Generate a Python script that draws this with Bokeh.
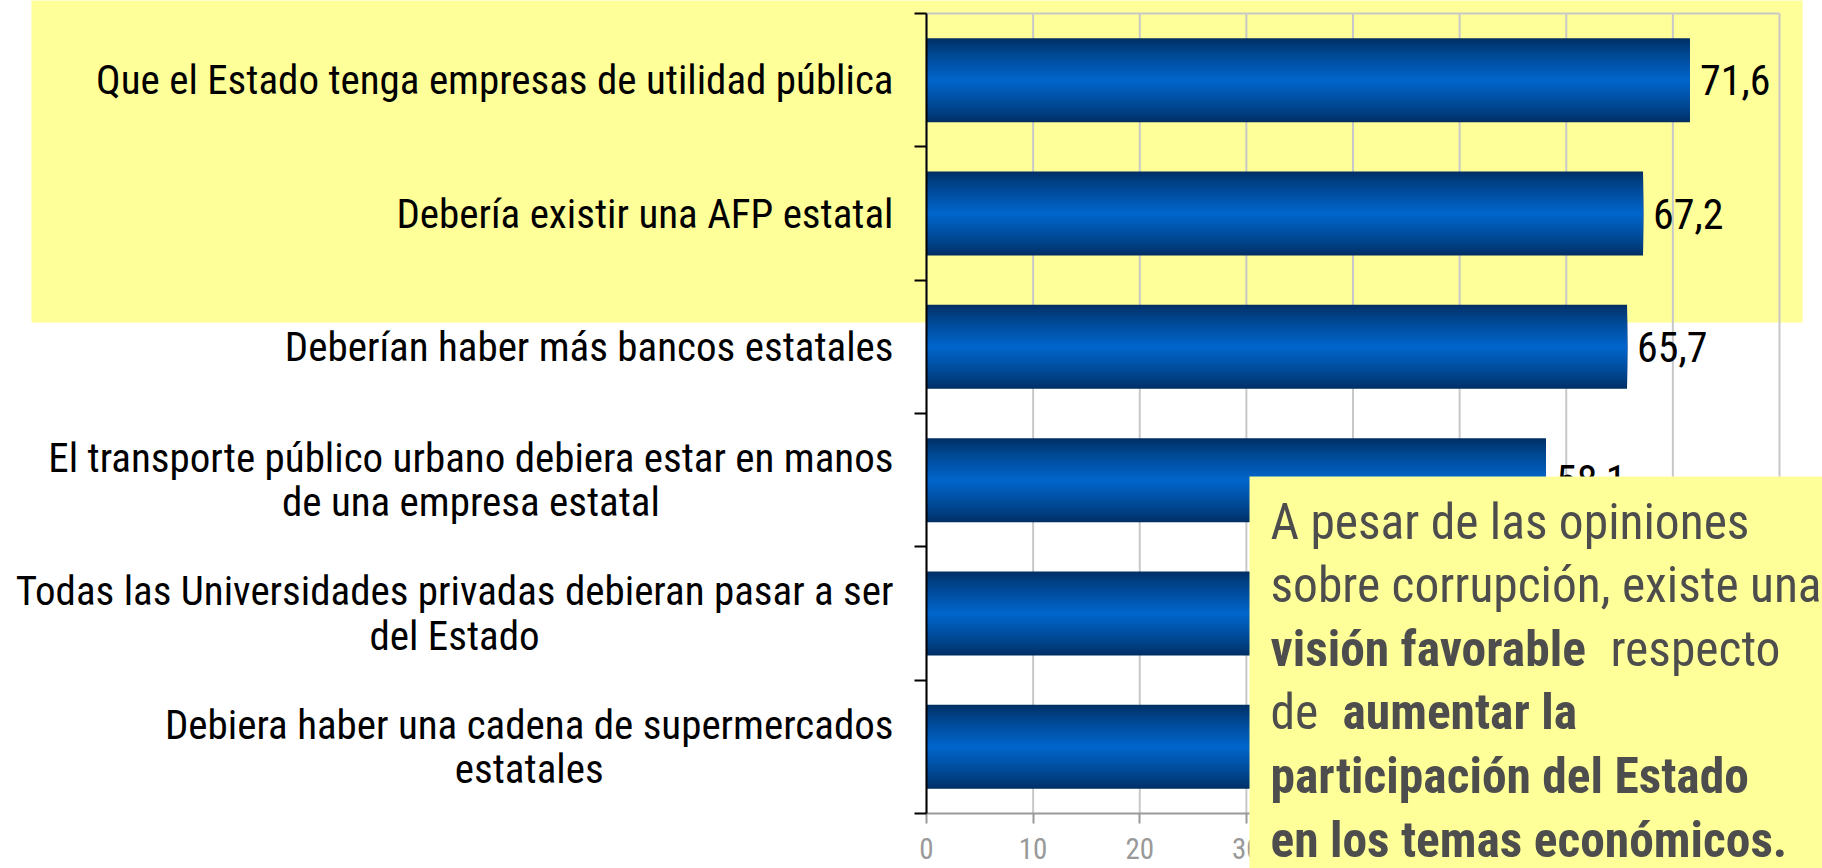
from bokeh.plotting import figure
from bokeh.models import (ColumnDataSource, Range1d, FixedTicker, LabelSet, Label,
                          BoxAnnotation)
from bokeh.core.properties import value
from bokeh.embed import file_html
from bokeh.resources import INLINE

# ---------------- data ----------------
CATEGORIES = [
    "Que el Estado tenga empresas de utilidad pública",
    "Debería existir una AFP estatal",
    "Deberían haber más bancos estatales",
    "El transporte público urbano debiera estar en manos\nde una empresa estatal",
    "Todas las Universidades privadas debieran pasar a ser\ndel Estado",
    "Debiera haber una cadena de supermercados\nestatales",
]
VALUES = [71.6, 67.2, 65.7, 58.1, 50.3, 46.8]
X_TICKS = [0, 10, 20, 30, 40, 50, 60, 70, 80]
X_TICK_LABELS = [str(t) for t in X_TICKS]
VALUE_LABELS = [f"{v:.1f}".replace(".", ",") for v in VALUES]

NOTE_LINES = [
    [("A pesar de las opiniones", False)],
    [("sobre corrupción, existe una", False)],
    [("visión favorable", True), ("respecto", False)],
    [("de", False), ("aumentar la", True)],
    [("participación del Estado", True)],
    [("en los temas económicos.", True)],
]

# ---------------- layout (screen pixels of the page) ----------------
FONT = "Roboto Condensed"
PAGE_MARGIN = 0
FRAME_L, FRAME_R, FRAME_T, FRAME_B = 926, 1779, 13, 813   # plot area of the chart
FIG_W, FIG_H = 1822, 868
X0, X1 = 0, 80
N = len(CATEGORIES)
Y0, Y1 = 0, N


def dx(sx):
    return X0 + (sx - FRAME_L) / (FRAME_R - FRAME_L) * (X1 - X0)


def dy(sy):
    return Y1 - (sy - FRAME_T) / (FRAME_B - FRAME_T) * (Y1 - Y0)


p = figure(
    width=FIG_W, height=FIG_H,
    min_border_left=0, min_border_right=0, min_border_top=0, min_border_bottom=0,
    x_range=Range1d(dx(PAGE_MARGIN), dx(PAGE_MARGIN + FIG_W)),
    y_range=Range1d(dy(PAGE_MARGIN + FIG_H), dy(PAGE_MARGIN)),
    output_backend="svg", toolbar_location=None,
)
p.background_fill_color = "white"
p.border_fill_color = "white"
p.outline_line_color = None
p.xgrid.visible = False
p.ygrid.visible = False

# yellow highlight behind the first two rows
p.add_layout(BoxAnnotation(left=dx(31), right=dx(1802), top=dy(-5), bottom=dy(322),
                           fill_color="#FFFF99", fill_alpha=1.0, line_color=None,
                           level="underlay"))

# grid lines and top border of the plot area
p.segment(x0=X_TICKS, x1=X_TICKS, y0=Y0, y1=Y1, line_color="#C8C8C8", line_width=2)
p.segment(x0=X_TICKS[0], x1=X_TICKS[-1], y0=Y1, y1=Y1, line_color="#C8C8C8", line_width=2)

# ---------------- bars with vertical gradient (nested, centred layers) ----------------
centers = [N - i - 0.5 for i in range(N)]
BAR_FRAC = 0.63
N_LAYERS = 40
EDGE = (0, 46, 98)
MID = (0, 102, 204)
ys, rights, hs, cols = [], [], [], []
for k in range(N_LAYERS):
    frac = 1 - k / N_LAYERS            # relative height of this layer
    w = (1 - frac) ** 0.8
    c = tuple(int(round(EDGE[j] + (MID[j] - EDGE[j]) * w)) for j in range(3))
    col = "#%02x%02x%02x" % c
    for cy, v in zip(centers, VALUES):
        ys.append(cy)
        rights.append(v)
        hs.append(BAR_FRAC * frac)
        cols.append(col)
bar_src = ColumnDataSource(dict(y=ys, right=rights, h=hs, color=cols))
p.hbar(y="y", left=0, right="right", height="h", source=bar_src,
       fill_color="color", line_color=None)

# ---------------- axes (drawn at the data origin) ----------------
xa = p.xaxis[0]
xa.fixed_location = 0
xa.bounds = (X0, X1)
xa.ticker = FixedTicker(ticks=X_TICKS)
xa.major_label_overrides = {t: s for t, s in zip(X_TICKS, X_TICK_LABELS)}
xa.axis_line_color = "#999999"
xa.axis_line_width = 2
xa.major_tick_out = 10
xa.major_tick_in = 0
xa.major_tick_line_color = "#999999"
xa.major_tick_line_width = 2
xa.minor_tick_line_color = None
xa.major_label_text_font = FONT
xa.major_label_text_font_size = "29px"
xa.major_label_text_color = "#999999"
xa.major_label_standoff = 14

ya = p.yaxis[0]
ya.fixed_location = 0
ya.bounds = (Y0, Y1)
ya.ticker = FixedTicker(ticks=[], minor_ticks=list(range(N + 1)))
ya.major_tick_line_color = None
ya.minor_tick_out = 12
ya.minor_tick_in = 0
ya.minor_tick_line_color = "black"
ya.minor_tick_line_width = 2
ya.axis_line_color = "black"
ya.axis_line_width = 2

# category labels: block right-aligned to the axis, lines centred
for cy, lab in zip(centers, CATEGORIES):
    p.add_layout(Label(x=0, y=cy, text=lab, x_offset=-33, anchor="center_right",
                       text_align="center", text_baseline="middle",
                       text_font=FONT, text_font_size="41px", text_color="black",
                       text_line_height=0.92))

# value labels
val_src = ColumnDataSource(dict(x=VALUES, y=centers, text=VALUE_LABELS))
p.add_layout(LabelSet(x="x", y="y", text="text", source=val_src, x_offset=10,
                      text_align="left", text_baseline="middle",
                      text_font=value(FONT), text_font_size=value("42px"),
                      text_color="black"))

# ---------------- note box ----------------
p.add_layout(BoxAnnotation(left=dx(1249), right=dx(1840), top=dy(476), bottom=dy(900),
                           fill_color="#FFFF99", fill_alpha=1.0, line_color=None,
                           level="overlay"))
NOTE_X = [[1270], [1270], [1270, 1610], [1270, 1342], [1270], [1270]]
for i, (segs, xs) in enumerate(zip(NOTE_LINES, NOTE_X)):
    base = 521 + 63.6 * i
    for (txt, bold), sx in zip(segs, xs):
        p.add_layout(Label(x=dx(sx), y=dy(base), text=txt, text_baseline="alphabetic",
                           text_align="left", text_font=FONT, text_font_size="49.5px",
                           text_font_style="bold" if bold else "normal",
                           text_color="#4D4D4D", level="overlay"))

open("out.html", "w").write(file_html(p, INLINE))
